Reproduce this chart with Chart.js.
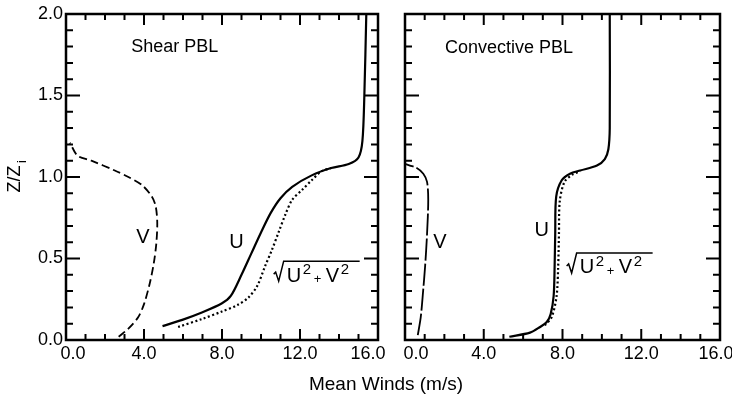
<!DOCTYPE html>
<html>
<head>
<meta charset="utf-8">
<script src="https://cdn.jsdelivr.net/npm/chart.js@4.4.1/dist/chart.umd.min.js"></script>
<style>
  body { margin: 0; background: #fff; }
  #wrap { position: relative; width: 732px; height: 400px; overflow: hidden; }
  .pane { position: absolute; top: 0; }
  #xtitle { position: absolute; left: 236px; width: 300px; top: 373px; text-align: center;
            font: 19px "Liberation Sans", Arial, sans-serif; color: #000; }
</style>
</head>
<body>
<div id="wrap">
  <div class="pane" style="left:0px;width:400px;height:400px"><canvas id="shear" width="400" height="400"></canvas></div>
  <div class="pane" style="left:388px;width:344px;height:400px"><canvas id="conv" width="344" height="400"></canvas></div>
  <div id="xtitle">Mean Winds (m/s)</div>
</div>
<script>
// values: wind speed (m/s) against Z/Zi

// Shear PBL
const shearU_wind = [4.95, 6.0, 7.0, 8.0, 8.45, 9.0, 9.5, 10.0, 10.5, 11.0, 11.6, 12.6, 13.6, 14.5, 15.0, 15.2, 15.3, 15.4];
const shearU_z    = [0.085, 0.125, 0.17, 0.225, 0.27, 0.40, 0.53, 0.66, 0.78, 0.87, 0.94, 1.01, 1.055, 1.08, 1.12, 1.22, 1.5, 2.0];

const shearV_wind = [2.7, 3.2, 3.7, 4.0, 4.3, 4.5, 4.63, 4.68, 4.6, 4.4, 3.9, 3.2, 2.5, 1.3, 0.6, 0.2];
const shearV_z    = [0.02, 0.07, 0.14, 0.22, 0.35, 0.47, 0.59, 0.72, 0.82, 0.88, 0.95, 1.0, 1.04, 1.10, 1.13, 1.21];

const shearMag_wind = [5.75, 7.0, 8.0, 8.8, 9.35, 9.8, 10.2, 10.55, 10.9, 11.25, 11.6, 12.1, 12.6, 13.1, 13.6];
const shearMag_z    = [0.08, 0.13, 0.175, 0.215, 0.26, 0.33, 0.45, 0.55, 0.66, 0.77, 0.86, 0.92, 0.98, 1.035, 1.055];

// Convective PBL
const convU_wind = [5.3, 6.35, 6.86, 7.2, 7.4, 7.55, 7.6, 7.63, 7.68, 7.96, 8.38, 8.9, 9.75, 10.15, 10.33, 10.4, 10.4];
const convU_z    = [0.02, 0.045, 0.08, 0.11, 0.16, 0.27, 0.45, 0.65, 0.88, 0.98, 1.02, 1.04, 1.07, 1.11, 1.17, 1.3, 2.0];

const convV_wind = [0.65, 0.8, 0.92, 1.02, 1.12, 1.18, 1.12, 0.93, 0.6, 0.25, 0.0];
const convV_z    = [0.03, 0.14, 0.3, 0.45, 0.65, 0.86, 0.97, 1.02, 1.055, 1.07, 1.08];

const convMag_wind = [7.1, 7.45, 7.7, 7.78, 7.82, 7.86, 8.1, 8.5, 8.9];
const convMag_z    = [0.09, 0.14, 0.27, 0.45, 0.65, 0.85, 0.97, 1.015, 1.035];

// axis ticks
const windTicks = [0, 4, 8, 12, 16];
const heightTicks = [0, 0.5, 1.0, 1.5, 2.0];

const FONT = '"Liberation Sans", Arial, Helvetica, sans-serif';

function pts(xs, zs) {
  return xs.map((v, i) => ({x: v, y: zs[i]}));
}

function line(data, dash, width) {
  return {
    data: data,
    showLine: true,
    borderColor: '#000',
    backgroundColor: '#000',
    borderWidth: width,
    borderDash: dash,
    pointRadius: 0,
    tension: 0.3,
    fill: false
  };
}

// box, inward tick marks on all four sides, and the wind tick labels
// (end labels are nudged inward like in the printed figure)
const frameTicks = {
  id: 'frameTicks',
  afterDatasetsDraw(chart, args, opts) {
    const ctx = chart.ctx;
    const a = chart.chartArea;
    const x = chart.scales.x, y = chart.scales.y;
    ctx.save();
    ctx.strokeStyle = '#000';
    ctx.lineWidth = 2.5;
    ctx.strokeRect(a.left, a.top, a.right - a.left, a.bottom - a.top);
    ctx.lineWidth = 2;
    ctx.beginPath();
    for (let i = 0; i <= 16; i++) {
      const px = x.getPixelForValue(i);
      const len = i % 4 === 0 ? 11 : 6;
      ctx.moveTo(px, a.bottom); ctx.lineTo(px, a.bottom - len);
      ctx.moveTo(px, a.top); ctx.lineTo(px, a.top + len);
    }
    for (let i = 0; i <= 20; i++) {
      const py = y.getPixelForValue(i / 10);
      const len = i % 5 === 0 ? 14 : 7;
      ctx.moveTo(a.left, py); ctx.lineTo(a.left + len, py);
      ctx.moveTo(a.right, py); ctx.lineTo(a.right - len, py);
    }
    ctx.stroke();

    ctx.fillStyle = '#000';
    ctx.font = '18px ' + FONT;
    ctx.textAlign = 'center';
    ctx.textBaseline = 'top';
    const shift = opts.edgeShift || [0, 0];
    windTicks.forEach((v, i) => {
      let px = x.getPixelForValue(v);
      if (i === 0) px += shift[0];
      if (i === windTicks.length - 1) px += shift[1];
      ctx.fillText(v.toFixed(1), px, a.bottom + 5);
    });
    ctx.restore();
  }
};

function drawRoot(ctx, x0, by) {
  ctx.beginPath();
  ctx.lineWidth = 1.5;
  ctx.moveTo(x0, by + 14);
  ctx.lineTo(x0 + 2, by + 12);
  ctx.lineTo(x0 + 5, by + 21);
  ctx.lineTo(x0 + 10, by + 1);
  ctx.lineTo(x0 + 86, by + 1);
  ctx.stroke();
  ctx.textBaseline = 'middle';
  ctx.textAlign = 'left';
  ctx.font = '20px ' + FONT;
  ctx.fillText('U', x0 + 13, by + 16);
  ctx.fillText('V', x0 + 52, by + 16);
  ctx.font = '15px ' + FONT;
  ctx.fillText('2', x0 + 29, by + 10);
  ctx.fillText('2', x0 + 67, by + 10);
  ctx.font = '13px ' + FONT;
  ctx.fillText('+', x0 + 40, by + 19);
}

// text placed at data coordinates
const panelText = {
  id: 'panelText',
  afterDatasetsDraw(chart, args, opts) {
    const ctx = chart.ctx;
    const x = chart.scales.x, y = chart.scales.y;
    ctx.save();
    ctx.fillStyle = '#000';
    ctx.strokeStyle = '#000';
    ctx.textBaseline = 'middle';
    (opts.items || []).forEach(it => {
      const px = x.getPixelForValue(it.x), py = y.getPixelForValue(it.y);
      if (it.root) { drawRoot(ctx, px, py); return; }
      ctx.font = (it.size || 20) + 'px ' + FONT;
      ctx.textAlign = it.align || 'center';
      ctx.fillText(it.text, px, py);
    });
    if (opts.ytitle) {
      ctx.translate(15, 176);
      ctx.rotate(-Math.PI / 2);
      ctx.font = '18px ' + FONT;
      ctx.textAlign = 'center';
      ctx.fillText('Z/Z', -3, 0);
      ctx.font = '13px ' + FONT;
      ctx.textAlign = 'left';
      ctx.fillText('i', 13, 7);
    }
    ctx.restore();
  }
};

function makeChart(id, sets, showY, pad, edgeShift, items) {
  return new Chart(document.getElementById(id), {
    type: 'scatter',
    data: { datasets: sets },
    plugins: [frameTicks, panelText],
    options: {
      responsive: false,
      animation: false,
      layout: { padding: pad },
      plugins: {
        legend: { display: false },
        tooltip: { enabled: false },
        frameTicks: { edgeShift: edgeShift },
        panelText: { items: items, ytitle: showY }
      },
      scales: {
        x: {
          type: 'linear', min: 0, max: 16,
          grid: { display: false, drawTicks: false },
          border: { display: false },
          ticks: { display: false },
          afterFit: s => { s.height = 60; s.paddingLeft = 0; s.paddingRight = 0; }
        },
        y: {
          type: 'linear', min: 0, max: 2,
          display: showY,
          grid: { display: false, drawTicks: false },
          border: { display: false },
          afterBuildTicks: s => { s.ticks = heightTicks.map(v => ({value: v})); },
          ticks: { color: '#000', padding: 3, font: { family: FONT, size: 18 },
                   callback: v => v.toFixed(1) },
          afterFit: s => { s.width = showY ? 66 : 0; s.paddingTop = 0; s.paddingBottom = 0; }
        }
      }
    }
  });
}

makeChart('shear', [
  line(pts(shearU_wind, shearU_z), [], 2.2),
  line(pts(shearMag_wind, shearMag_z), [2, 2.5], 2.2),
  line(pts(shearV_wind, shearV_z), [8, 4], 1.8)
], true, { top: 14, right: 22, left: 0, bottom: 0 }, [7, -10], [
  { text: 'Shear PBL', x: 3.34, y: 1.80, align: 'left', size: 18 },
  { text: 'V', x: 3.94, y: 0.63 },
  { text: 'U', x: 8.74, y: 0.60 },
  { root: true, x: 10.65, y: 0.49 }
]);

makeChart('conv', [
  line(pts(convU_wind, convU_z), [], 2.2),
  line(pts(convMag_wind, convMag_z), [2, 2.5], 2.2),
  line(pts(convV_wind, convV_z), [22, 3], 1.8)
], false, { top: 14, right: 12, left: 17, bottom: 0 }, [11, -4], [
  { text: 'Convective PBL', x: 2.03, y: 1.79, align: 'left', size: 18 },
  { text: 'V', x: 1.78, y: 0.60 },
  { text: 'U', x: 6.94, y: 0.67 },
  { root: true, x: 8.21, y: 0.54 }
]);
</script>
</body>
</html>
